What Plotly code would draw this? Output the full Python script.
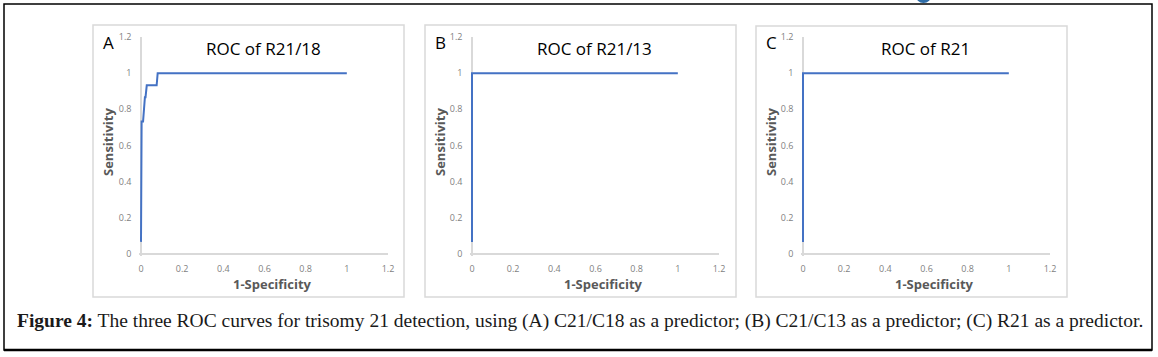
import plotly.graph_objects as go

W, H = 1158, 357

# ---- data ----
fpr_a = [0, 0, 0.002, 0.003, 0.010, 0.013, 0.019, 0.022, 0.028, 0.076, 0.081, 1.0]
tpr_a = [0.067, 0.667, 0.667, 0.733, 0.733, 0.800, 0.867, 0.867, 0.933, 0.933, 1.0, 1.0]
fpr_b = [0, 0, 1.0]
tpr_b = [0.067, 1.0, 1.0]
fpr_c = [0, 0, 1.0]
tpr_c = [0.067, 1.0, 1.0]
tick_vals = [0, 0.2, 0.4, 0.6, 0.8, 1.0, 1.2]
tick_text = ["0", "0.2", "0.4", "0.6", "0.8", "1", "1.2"]
panel_titles = ["ROC of R21/18", "ROC of R21/13", "ROC of R21"]
panel_letters = ["A", "B", "C"]
caption = ("<b>Figure 4:</b> The three ROC curves for trisomy 21 detection, using (A) C21/C18 as a "
           "predictor; (B) C21/C13 as a predictor; (C) R21 as a predictor.")

series = [(fpr_a, tpr_a), (fpr_b, tpr_b), (fpr_c, tpr_c)]

# ---- geometry (pixels) ----
x_zero_px = [141, 472, 803]
x_span_px = 247          # pixels for 0..1.2
y_zero_px = 254
y_top_px = 37
pad = 0.012
panel_boxes = [(93, 25, 404, 297), (425, 25, 736, 297), (756, 26, 1067, 297)]

def px(x):
    return x / W

def py(y):
    return 1 - y / H

fig = go.Figure()
layout = dict(
    template="none",
    width=W, height=H, autosize=False,
    margin=dict(l=0, r=0, t=0, b=0, pad=0, autoexpand=False),
    paper_bgcolor="white", plot_bgcolor="white",
    showlegend=False,
    font=dict(family="Open Sans", color="#595959"),
    shapes=[], annotations=[],
)

xppu = x_span_px / 1.2
yppu = (y_zero_px - y_top_px) / 1.2
for i, (xs, ys) in enumerate(series):
    n = "" if i == 0 else str(i + 1)
    fig.add_trace(go.Scatter(x=xs, y=ys, mode="lines",
                             line=dict(color="#4472C4", width=2),
                             xaxis="x" + n, yaxis="y" + n, hoverinfo="skip"))
    x0 = x_zero_px[i] - pad * xppu
    x1 = x_zero_px[i] + x_span_px
    y0 = y_zero_px + pad * yppu
    y1 = y_top_px
    axcommon = dict(range=[-pad, 1.2], tickvals=tick_vals, ticktext=tick_text,
                    showgrid=False, zeroline=True, zerolinecolor="#D9D9D9", zerolinewidth=1.5,
                    showline=False, ticks="", automargin=False,
                    tickfont=dict(family="Open Sans", size=9, color="#7f7f7f"),
                    fixedrange=True)
    layout["xaxis" + n] = dict(axcommon, domain=[px(x0), px(x1)], anchor="y" + n,
                               ticklabelstandoff=6)
    layout["yaxis" + n] = dict(axcommon, domain=[py(y0), py(y1)], anchor="x" + n,
                               ticklabelstandoff=6)
    # panel border
    bx0, by0, bx1, by1 = panel_boxes[i]
    layout["shapes"].append(dict(type="rect", xref="paper", yref="paper",
                                 x0=px(bx0), x1=px(bx1), y0=py(by1), y1=py(by0),
                                 line=dict(color="#D9D9D9", width=1.5), layer="below"))
    # title
    layout["annotations"].append(dict(text=panel_titles[i], xref="paper", yref="paper",
                                      x=px(x_zero_px[i] + 122), y=py(49), showarrow=False,
                                      xanchor="center", yanchor="middle",
                                      font=dict(family="Open Sans", size=17, color="#000000")))
    # panel letter
    layout["annotations"].append(dict(text=panel_letters[i], xref="paper", yref="paper",
                                      x=px(bx0 + 15), y=py(42), showarrow=False,
                                      xanchor="center", yanchor="middle",
                                      font=dict(family="Open Sans", size=17, color="#000000")))
    # axis titles
    layout["annotations"].append(dict(text="<b>Sensitivity</b>", xref="paper", yref="paper",
                                      x=px(bx0 + 15), y=py(142), showarrow=False, textangle=-90,
                                      xanchor="center", yanchor="middle",
                                      font=dict(family="Open Sans", size=13, color="#595959")))
    layout["annotations"].append(dict(text="<b>1-Specificity</b>", xref="paper", yref="paper",
                                      x=px(x_zero_px[i] + 131), y=py(284), showarrow=False,
                                      xanchor="center", yanchor="middle",
                                      font=dict(family="Open Sans", size=13, color="#595959")))

# outer frame
layout["shapes"].append(dict(type="rect", xref="paper", yref="paper",
                             x0=px(4), x1=px(1152), y0=py(350), y1=py(4),
                             line=dict(color="#000000", width=1.5), layer="below"))
layout["shapes"].append(dict(type="line", xref="paper", yref="paper",
                             x0=px(4), x1=px(1152), y0=py(350), y1=py(350),
                             line=dict(color="#000000", width=2.5)))
# partial blue circle at top edge
layout["shapes"].append(dict(type="circle", xref="paper", yref="paper",
                             x0=px(915.5), x1=px(931.5), y0=py(3), y1=py(-13),
                             fillcolor="#2F6DA8", line=dict(width=0)))

layout["annotations"].append(dict(text=caption, xref="paper", yref="paper",
                                  x=px(15), y=py(321), showarrow=False,
                                  xanchor="left", yanchor="middle",
                                  font=dict(family="Liberation Serif", size=19.5, color="#1a1a1a")))

fig.update_layout(**layout)
fig.write_html("out.html", config={"responsive": False, "displayModeBar": False},
               post_script="document.body.style.margin='0';document.body.style.overflow='hidden';")
